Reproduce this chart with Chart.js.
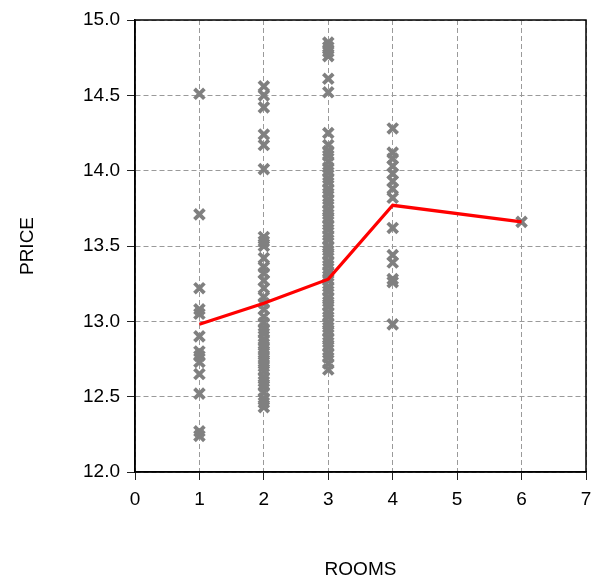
<!DOCTYPE html>
<html>
<head>
<meta charset="utf-8">
<script src="https://cdn.jsdelivr.net/npm/chart.js@4/dist/chart.umd.min.js"></script>
<style>
  html, body { margin: 0; padding: 0; background: #fff; }
  #wrap { width: 602px; height: 581px; }
</style>
</head>
<body>
<div id="wrap"><canvas id="roomsChart" width="602" height="581"></canvas></div>
<script>
// Observed prices by number of rooms
const price1 = [14.51, 13.71, 13.22, 13.08, 13.05, 12.90, 12.80, 12.77, 12.73, 12.65, 12.52, 12.27, 12.24];
const price2 = [14.56, 14.50, 14.42, 14.24, 14.17, 14.01, 13.56, 13.53, 13.50, 13.42, 13.36, 13.32,
                13.27, 13.22, 13.16, 13.12, 13.08, 13.03, 12.99, 12.95, 12.92, 12.88, 12.85, 12.82,
                12.79, 12.76, 12.73, 12.70, 12.67, 12.63, 12.60, 12.57, 12.53, 12.49, 12.46, 12.43];
const price3 = [14.85, 14.82, 14.79, 14.76, 14.61, 14.52, 14.25, 14.17, 14.13, 14.10, 14.06, 14.02,
                13.99, 13.95, 13.92, 13.88, 13.85, 13.81, 13.78, 13.74, 13.71, 13.68, 13.64, 13.61,
                13.57, 13.54, 13.50, 13.47, 13.44, 13.40, 13.37, 13.33, 13.30, 13.27, 13.23, 13.20,
                13.16, 13.13, 13.10, 13.06, 13.03, 12.99, 12.96, 12.93, 12.89, 12.86, 12.83, 12.79,
                12.76, 12.72, 12.68];
const price4 = [14.28, 14.12, 14.08, 14.03, 13.98, 13.93, 13.88, 13.82, 13.62, 13.44, 13.39, 13.28, 13.26, 12.98];
const price6 = [13.66];

// Mean line
const meanRooms = [1, 2, 3, 4, 6];
const meanPrice = [12.98, 13.12, 13.28, 13.77, 13.66];

const groups = [[1, price1], [2, price2], [3, price3], [4, price4], [6, price6]];
const scatterPoints = [];
groups.forEach(function(g) {
    g[1].forEach(function(p) { scatterPoints.push({ x: g[0], y: p }); });
});
const meanPoints = meanRooms.map((r, i) => ({ x: r, y: meanPrice[i] }));

// draws the full frame round the plot
const framePlugin = {
    id: 'frame',
    afterDraw(chart) {
        const a = chart.chartArea, ctx = chart.ctx;
        ctx.save();
        ctx.setLineDash([]);
        ctx.strokeStyle = '#000';
        ctx.lineWidth = 1.5;
        ctx.strokeRect(a.left, a.top, a.right - a.left, a.bottom - a.top);
        ctx.restore();
    }
};

const font = { family: '"Liberation Sans", Arial, sans-serif', size: 19 };
const gridOpts = {
    color: '#9a9a9a',
    lineWidth: 1,
    tickLength: 8,
    tickColor: '#222',
    tickBorderDash: [],
    tickWidth: 1
};
const borderOpts = { display: true, color: '#000', width: 1.5, dash: [5, 3] };

const ctx = document.getElementById('roomsChart').getContext('2d');
new Chart(ctx, {
    data: {
        datasets: [{
            type: 'line',
            data: meanPoints,
            borderColor: '#ff0000',
            borderWidth: 3.2,
            pointRadius: 0,
            tension: 0,
            fill: false,
            order: 0
        }, {
            type: 'scatter',
            data: scatterPoints,
            pointStyle: 'crossRot',
            pointRadius: 7,
            borderWidth: 3.8,
            borderColor: '#808080',
            backgroundColor: '#808080',
            order: 1
        }]
    },
    options: {
        responsive: false,
        animation: false,
        layout: { padding: { left: 0, right: 16, top: 20, bottom: 0 } },
        plugins: {
            legend: { display: false },
            tooltip: { enabled: false }
        },
        scales: {
            x: {
                type: 'linear',
                min: 0,
                max: 7,
                ticks: { stepSize: 1, font: font, color: '#000', padding: 8 },
                grid: gridOpts,
                border: borderOpts,
                title: { display: true, text: 'ROOMS', font: font, color: '#000', padding: { top: 5, bottom: 0 } },
                afterFit(scale) { scale.height = 109; }
            },
            y: {
                type: 'linear',
                min: 12,
                max: 15,
                ticks: {
                    stepSize: 0.5,
                    font: font,
                    color: '#000',
                    padding: 7,
                    callback: v => v.toFixed(1)
                },
                grid: gridOpts,
                border: borderOpts,
                title: { display: true, text: 'PRICE', font: font, color: '#000', padding: { top: 16, bottom: 0 } },
                afterFit(scale) { scale.width = 135; }
            }
        }
    },
    plugins: [framePlugin]
});
</script>
</body>
</html>
